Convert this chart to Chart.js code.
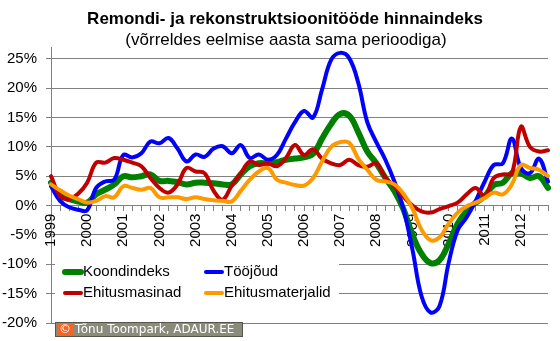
<!DOCTYPE html>
<html>
<head>
<meta charset="utf-8">
<title>Remondi- ja rekonstruktsioonitööde hinnaindeks</title>
<script src="https://cdn.jsdelivr.net/npm/chart.js@4.4.1/dist/chart.umd.min.js"></script>
<style>
    html, body { margin: 0; padding: 0; background: #fff; }
</style>
</head>
<body>
<canvas id="hinnaindeks" width="560" height="341"></canvas>
<script>
let years = ["1999", "2000", "2001", "2002", "2003", "2004", "2005", "2006", "2007", "2008", "2009", "2010", "2011", "2012"];
let quarterNames = ["I", "II", "III", "IV"];
let yTickValues = [-20, -15, -10, -5, 0, 5, 10, 15, 20, 25];

let koondindeks = [3.9, 1.7, 1.1, 0.7, 0.5, 1.9, 2.7, 3.6, 5.0, 4.8, 5.0, 5.3, 4.2, 4.2,
    4.0, 3.6, 3.9, 3.9, 3.8, 3.6, 3.6, 5.3, 6.7, 7.2, 7.2, 7.4, 7.8, 8.0,
    8.2, 8.8, 11.4, 13.9, 15.6, 15.3, 12.5, 9.2, 7.2, 4.7, 2.5, -0.6, -5.0, -8.2,
    -9.8, -9.3, -6.5, -3.1, -0.9, 0.5, 1.6, 3.5, 3.9, 5.5, 5.5, 4.7, 5.0, 3.0];
let toojoud = [3.3, 0.8, -0.3, -0.7, -0.8, 3.0, 4.1, 4.4, 8.6, 8.2, 8.9, 10.9, 10.6, 11.5,
    9.7, 7.5, 8.7, 8.3, 9.7, 10.1, 8.9, 10.3, 8.1, 8.7, 7.8, 8.6, 11.4, 14.2,
    16.1, 15.0, 19.8, 24.8, 26.0, 25.1, 20.9, 14.2, 10.8, 7.8, 4.1, -0.6, -7.5, -15.4,
    -18.2, -17.1, -9.8, -4.2, -2.0, 0.8, 4.1, 6.9, 7.2, 11.4, 6.4, 5.5, 8.0, 4.1];
let ehitusmasinad = [5.0, 1.7, 1.1, 2.0, 3.9, 7.3, 7.3, 8.1, 7.8, 7.3, 6.7, 4.7, 3.0, 2.2,
    3.6, 6.4, 5.8, 5.5, 2.5, 1.0, 3.4, 5.5, 7.5, 6.9, 7.2, 6.7, 8.1, 10.3,
    8.6, 9.6, 8.0, 7.2, 6.9, 7.8, 6.9, 6.6, 7.2, 4.7, 3.3, 1.5, 0.0, -1.0,
    -1.2, -0.6, -0.1, 0.5, 1.9, 3.0, 1.6, 4.7, 5.3, 5.5, 13.4, 10.0, 9.2, 9.4];
let ehitusmaterjalid = [3.6, 2.6, 1.7, 1.1, 0.5, 0.8, 1.6, 1.4, 3.3, 3.0, 2.7, 3.0, 1.4, 1.4,
    1.4, 1.1, 1.4, 1.1, 0.9, 0.8, 0.7, 2.5, 4.4, 5.8, 6.4, 4.4, 3.9, 3.5,
    3.4, 4.7, 7.5, 10.0, 10.8, 10.7, 8.0, 6.1, 4.4, 4.1, 3.6, 2.0, -0.5, -4.1,
    -5.9, -5.4, -3.1, -1.2, -0.1, 0.5, 1.3, 2.2, 1.9, 3.6, 6.9, 6.4, 6.1, 5.0];

let titleText = 'Remondi- ja rekonstruktsioonitööde hinnaindeks';
let subtitleText = '(võrreldes eelmise aasta sama perioodiga)';

let quarters = [];
years.forEach(function (y) {
    quarterNames.forEach(function (q) {
        quarters.push(y + " " + q);
    });
});

function makeLine(label, data, color, width, order) {
    return {
        label: label,
        data: data,
        borderColor: color,
        backgroundColor: color,
        borderWidth: width,
        pointRadius: 0,
        tension: 0.4,
        borderCapStyle: 'round',
        borderJoinStyle: 'round',
        fill: false,
        order: order
    };
}

// titles, legend (inside the plot, two columns) and the copyright tag
const extras = {
    id: 'extras',
    afterDraw(chart) {
        let ctx = chart.ctx;
        let area = chart.chartArea;
        let sets = chart.data.datasets;
        ctx.save();

        ctx.fillStyle = '#000';
        ctx.textAlign = 'center';
        ctx.textBaseline = 'middle';
        ctx.font = "bold 17px 'Liberation Sans', Arial, sans-serif";
        ctx.fillText(titleText, 285, 19);
        ctx.font = "17px 'Liberation Sans', Arial, sans-serif";
        ctx.fillText(subtitleText, 286, 40);

        ctx.fillStyle = '#fff';
        ctx.fillRect(area.left + 4, 256, 284, 49);
        ctx.font = "15px 'Liberation Sans', Arial, sans-serif";
        ctx.textAlign = 'left';
        ctx.fillStyle = '#000';
        sets.forEach(function (ds, i) {
            let col = i % 2;
            let row = Math.floor(i / 2);
            let x = area.left + 14 + col * 141;
            let y = 272 + row * 21;
            ctx.strokeStyle = ds.borderColor;
            ctx.lineWidth = ds.borderWidth;
            ctx.lineCap = 'round';
            ctx.beginPath();
            ctx.moveTo(x, y);
            ctx.lineTo(x + 16, y);
            ctx.stroke();
            ctx.fillText(ds.label, x + 18, y);
        });

        ctx.fillStyle = '#8b8b7b';
        ctx.fillRect(55, 322, 188, 15);
        ctx.strokeStyle = '#55554c';
        ctx.lineWidth = 1;
        ctx.strokeRect(55.5, 322.5, 187, 14);
        ctx.fillStyle = '#f26522';
        ctx.fillRect(57, 324, 16, 11);
        ctx.fillStyle = '#fff';
        ctx.font = "12px 'DejaVu Sans', sans-serif";
        ctx.textAlign = 'center';
        ctx.fillText('\u00a9', 65, 330);
        ctx.textAlign = 'left';
        ctx.fillText('T\u00f5nu Toompark, ADAUR.EE', 75, 330);
        ctx.restore();
    }
};

Chart.defaults.font.family = "'Liberation Sans', Arial, sans-serif";
Chart.defaults.font.size = 15;
Chart.defaults.color = '#000';

new Chart("hinnaindeks", {
    type: "line",
    data: {
        labels: quarters,
        datasets: [
            makeLine("Koondindeks", koondindeks, "#008000", 6, 4),
            makeLine("Tööjõud", toojoud, "#0000ff", 4, 3),
            makeLine("Ehitusmasinad", ehitusmasinad, "#c00000", 4, 2),
            makeLine("Ehitusmaterjalid", ehitusmaterjalid, "#ff9900", 4, 1)
        ]
    },
    options: {
        responsive: false,
        animation: false,
        devicePixelRatio: 1,
        layout: {
            padding: { left: 2, right: 12, top: 47, bottom: 14 }
        },
        scales: {
            y: {
                min: -20,
                max: 27,
                afterBuildTicks: function (scale) {
                    scale.ticks = yTickValues.map(v => ({ value: v }));
                },
                afterFit: function (scale) {
                    scale.width = 49;
                },
                grid: { color: '#808080', lineWidth: 1, tickLength: 5 },
                border: { display: true, color: '#808080' },
                ticks: {
                    padding: 9,
                    font: { size: 15 },
                    callback: function (value) {
                        return value + '%';
                    }
                }
            },
            x: {
                type: 'category',
                position: { y: 0 },
                offset: false,
                afterFit: function (scale) {
                    scale.paddingLeft = 0;
                    scale.paddingRight = 0;
                },
                grid: { drawOnChartArea: false, drawTicks: true, tickLength: 5, color: '#808080' },
                border: { display: true, color: '#808080' },
                ticks: {
                    autoSkip: false,
                    minRotation: 90,
                    maxRotation: 90,
                    padding: 3,
                    font: { size: 15 },
                    callback: function (value, index) {
                        return index % 4 === 0 ? years[index / 4] : '';
                    }
                }
            }
        },
        plugins: {
            legend: { display: false },
            tooltip: { enabled: false },
            title: { display: false }
        }
    },
    plugins: [extras]
});
</script>
</body>
</html>
